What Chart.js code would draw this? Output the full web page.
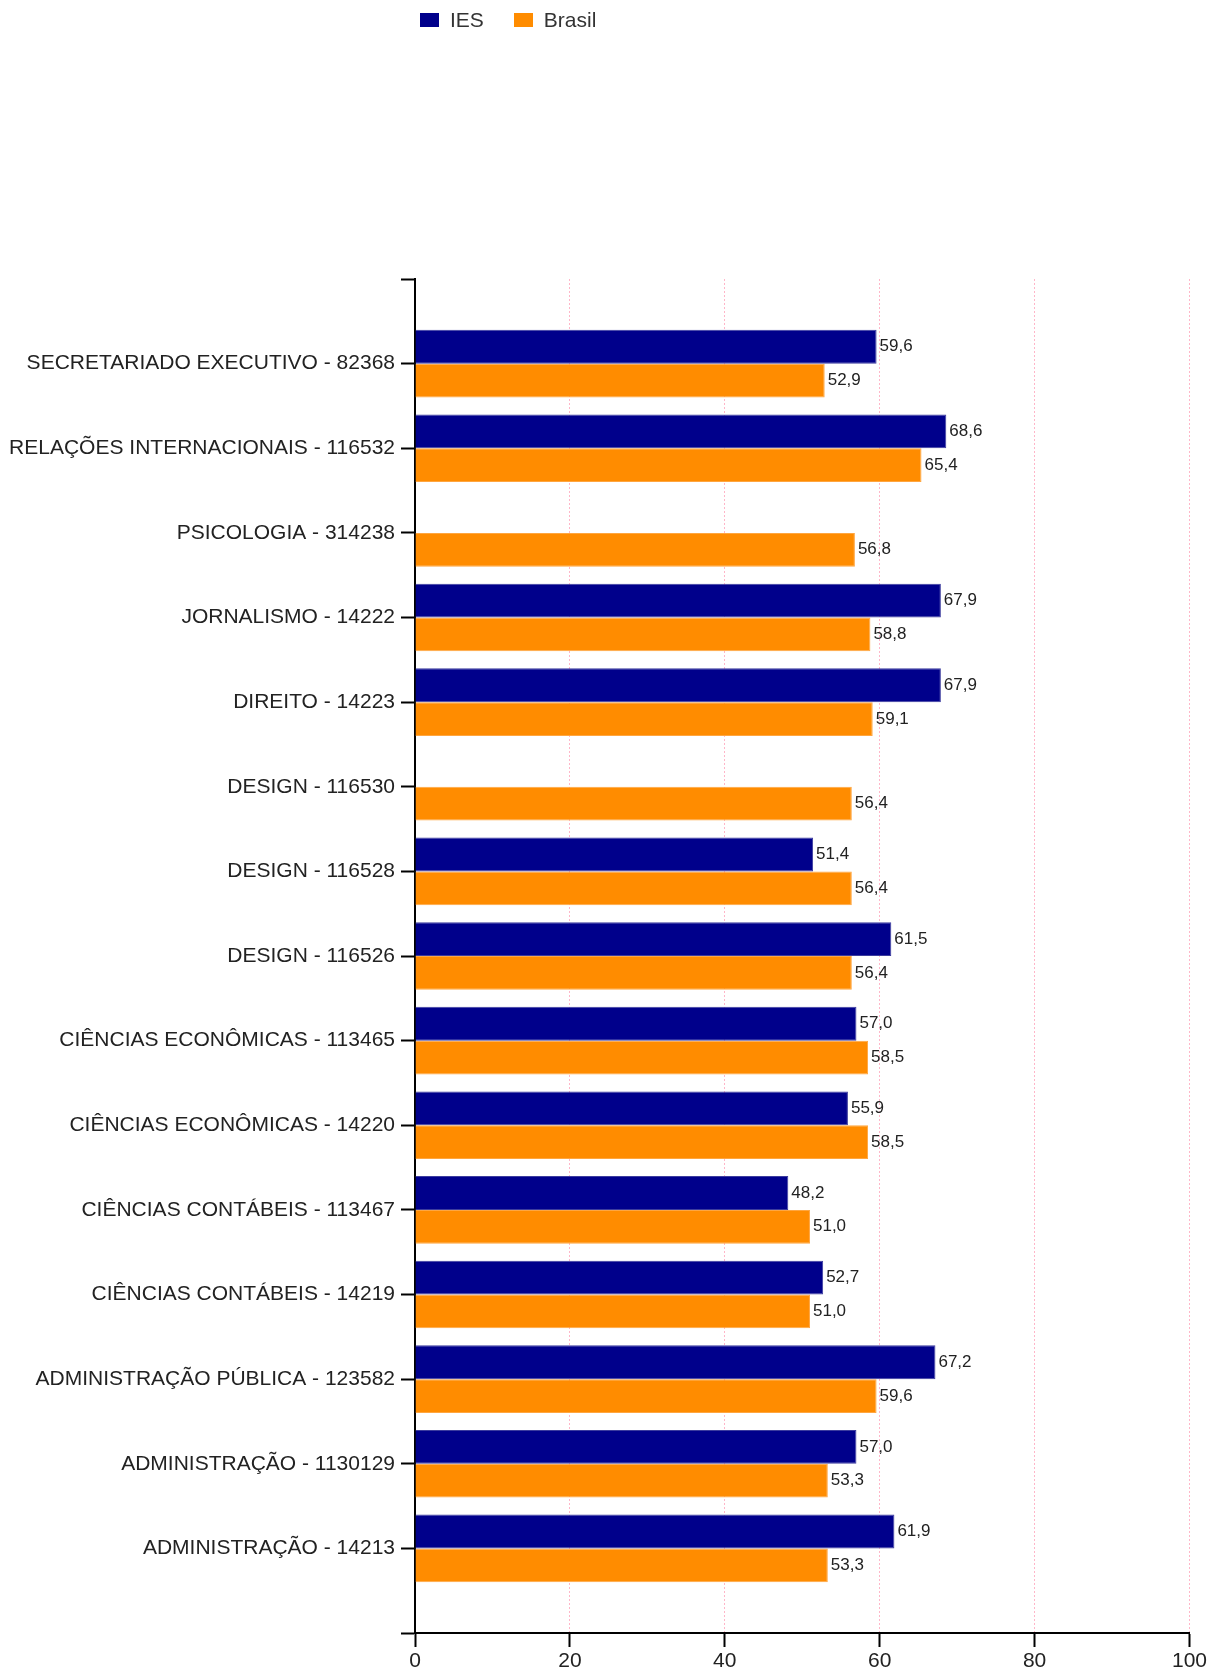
<!DOCTYPE html>
<html>
<head>
<meta charset="utf-8">
<title>IES x Brasil</title>
<script src="https://cdn.jsdelivr.net/npm/chart.js@4.4.1/dist/chart.umd.min.js"></script>
<style>
    body { margin: 0; background: #fff; }
    #wrap { position: relative; width: 1209px; height: 1672px; }
    #legend { position: absolute; top: 8px; left: 420px; font: 21px "Liberation Sans", Arial, sans-serif; color: #333; white-space: nowrap; }
    #legend span.item { display: inline-flex; align-items: center; margin-right: 30px; }
    #legend span.box { display: inline-block; width: 19px; height: 14px; margin-right: 11px; }
</style>
</head>
<body>
<div id="wrap">
    <div id="legend"></div>
    <canvas id="chart"></canvas>
</div>
<script>
// course names (top to bottom)
const cursos = [
    'SECRETARIADO EXECUTIVO - 82368',
    'RELAÇÕES INTERNACIONAIS - 116532',
    'PSICOLOGIA - 314238',
    'JORNALISMO - 14222',
    'DIREITO - 14223',
    'DESIGN - 116530',
    'DESIGN - 116528',
    'DESIGN - 116526',
    'CIÊNCIAS ECONÔMICAS - 113465',
    'CIÊNCIAS ECONÔMICAS - 14220',
    'CIÊNCIAS CONTÁBEIS - 113467',
    'CIÊNCIAS CONTÁBEIS - 14219',
    'ADMINISTRAÇÃO PÚBLICA - 123582',
    'ADMINISTRAÇÃO - 1130129',
    'ADMINISTRAÇÃO - 14213'
];
const valoresIES = [59.6, 68.6, null, 67.9, 67.9, null, 51.4, 61.5, 57.0, 55.9, 48.2, 52.7, 67.2, 57.0, 61.9];
const valoresBrasil = [52.9, 65.4, 56.8, 58.8, 59.1, 56.4, 56.4, 56.4, 58.5, 58.5, 51.0, 51.0, 59.6, 53.3, 53.3];
const xTicks = [0, 20, 40, 60, 80, 100];

const corIES = '#00008b';
const corBrasil = '#ff8c00';
const fonte = '"Liberation Sans", Arial, sans-serif';

// empty slot above and below, like the original axis
const labels = [''].concat(cursos, ['']);
const pad = arr => [null].concat(arr, [null]);

// value labels at the end of each bar
const valueLabels = {
    id: 'valueLabels',
    afterDatasetsDraw(chart) {
        const ctx = chart.ctx;
        ctx.save();
        ctx.font = '17px ' + fonte;
        ctx.fillStyle = '#222';
        ctx.textBaseline = 'middle';
        ctx.textAlign = 'left';
        chart.data.datasets.forEach((ds, i) => {
            chart.getDatasetMeta(i).data.forEach((bar, j) => {
                const v = ds.data[j];
                if (v === null || v === undefined) return;
                ctx.fillText(v.toFixed(1).replace('.', ','), bar.x + 3, bar.y);
            });
        });
        ctx.restore();
    }
};

const chart = new Chart(document.getElementById('chart'), {
    type: 'bar',
    data: {
        labels: labels,
        datasets: [
            { label: 'IES', data: pad(valoresIES), backgroundColor: corIES, borderColor: '#3c3c9e', borderWidth: 1 },
            { label: 'Brasil', data: pad(valoresBrasil), backgroundColor: corBrasil, borderColor: '#ffa640', borderWidth: 1 }
        ]
    },
    options: {
        indexAxis: 'y',
        responsive: true,
        maintainAspectRatio: false,
        animation: false,
        categoryPercentage: 0.8,
        barPercentage: 1.0,
        layout: { padding: { top: 279, right: 19, left: 0, bottom: 0 } },
        plugins: {
            legend: { display: false },
            tooltip: { enabled: false }
        },
        scales: {
            y: {
                offset: false,
                grid: { offset: false, drawOnChartArea: false, tickLength: 14, tickColor: '#000', tickWidth: 2 },
                border: { color: '#000', width: 2 },
                ticks: { color: '#222', font: { family: fonte, size: 21 }, padding: 6, autoSkip: false },
                afterFit(scale) { scale.width = 415; }
            },
            x: {
                min: 0,
                max: 100,
                afterBuildTicks(scale) { scale.ticks = xTicks.map(v => ({ value: v })); },
                grid: {
                    color: c => (c.tick && c.tick.value === 0) ? 'rgba(0,0,0,0)' : '#ffb6c8',
                    lineWidth: 1,
                    tickLength: 14,
                    tickColor: '#000',
                    tickWidth: 2
                },
                border: { color: '#000', width: 2, dash: [2, 2] },
                ticks: { color: '#222', font: { family: fonte, size: 21 }, padding: 2 },
                afterFit(scale) { scale.height = 39; }
            }
        }
    },
    plugins: [valueLabels]
});

// legend built from the datasets
const legend = document.getElementById('legend');
chart.data.datasets.forEach(ds => {
    const item = document.createElement('span');
    item.className = 'item';
    const box = document.createElement('span');
    box.className = 'box';
    box.style.background = ds.backgroundColor;
    item.appendChild(box);
    item.appendChild(document.createTextNode(ds.label));
    legend.appendChild(item);
});
</script>
</body>
</html>
